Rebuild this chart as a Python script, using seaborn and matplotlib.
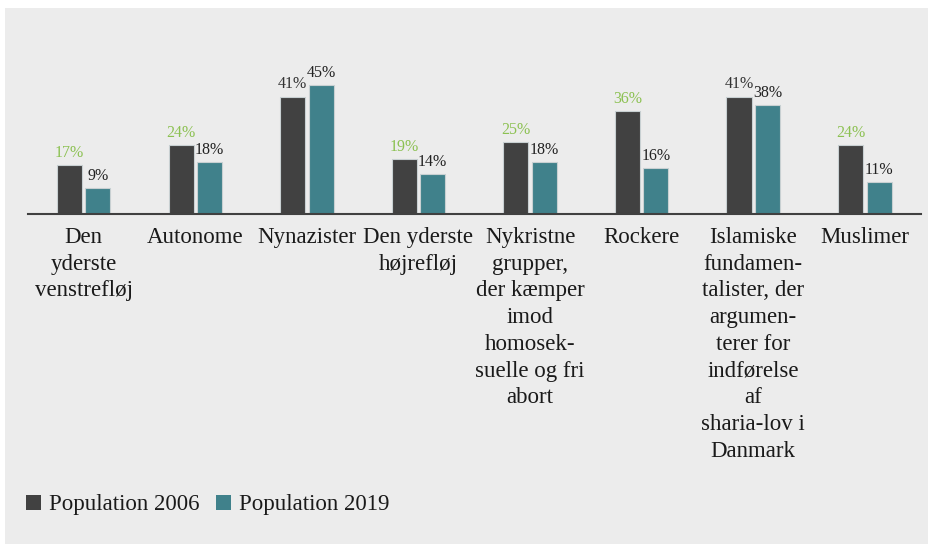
import matplotlib.pyplot as plt
import matplotlib.transforms as mtransforms
import seaborn as sns
import pandas as pd

groups = ["Den\nyderste\nvenstrefløj", "Autonome", "Nynazister", "Den yderste\nhøjrefløj",
          "Nykristne\ngrupper,\nder kæmper\nimod\nhomosek-\nsuelle og fri\nabort",
          "Rockere",
          "Islamiske\nfundamen-\ntalister, der\nargumen-\nterer for\nindførelse\naf\nsharia-lov i\nDanmark",
          "Muslimer"]
pop_2006 = [17, 24, 41, 19, 25, 36, 41, 24]
pop_2019 = [9, 18, 45, 14, 18, 16, 38, 11]
series = ["Population 2006", "Population 2019"]
label_colors_2006 = ["#8cc152", "#8cc152", "#333333", "#8cc152", "#8cc152", "#8cc152", "#333333", "#8cc152"]

bg = "#ececec"
colors = ["#414141", "#40818b"]

rows = []
for g, a, b in zip(groups, pop_2006, pop_2019):
    rows.append([g, series[0], a])
    rows.append([g, series[1], b])
df = pd.DataFrame(rows, columns=["gruppe", "serie", "pct"])

sns.set_style("white")
plt.rcParams["font.family"] = ["Liberation Serif", "DejaVu Serif"]

fig = plt.figure(figsize=(9.29, 5.44), dpi=100)
fig.patch.set_facecolor(bg)
# white margin at top/left like the cropped page
fig.patches.append(plt.Rectangle((0, 1 - 8 / 544), 1, 8 / 544, transform=fig.transFigure,
                                 facecolor="white", edgecolor="none"))
fig.patches.append(plt.Rectangle((0, 0), 5 / 929, 1, transform=fig.transFigure,
                                 facecolor="white", edgecolor="none"))

ax = fig.add_axes([0.030, 0.607, 0.961, 0.310])
ax.set_facecolor(bg)

sns.barplot(data=df, x="gruppe", y="pct", hue="serie", palette=colors,
            width=0.51, gap=0.12, edgecolor="#c8d0d2", linewidth=0.8,
            saturation=1, ax=ax)

for i, cont in enumerate(ax.containers):
    labels = ax.bar_label(cont, fmt="%d%%", padding=3, fontsize=11.5)
    for j, t in enumerate(labels):
        t.set_color(label_colors_2006[j] if i == 0 else "#222222")

ax.set_xlim(-0.5, 7.5)
ax.set_ylim(0, 59)
ax.set_xlabel("")
ax.set_ylabel("")
ax.set_yticks([])
for s in ["top", "right", "left"]:
    ax.spines[s].set_visible(False)
ax.spines["bottom"].set_color("#404040")
ax.spines["bottom"].set_linewidth(1.5)
ax.tick_params(axis="x", length=0, labelbottom=False)

# category labels drawn as text so the line spacing sticks
trans = mtransforms.offset_copy(ax.get_xaxis_transform(), fig=fig, y=-13, units="dots")
for i, g in enumerate(groups):
    ax.text(i, 0, g, transform=trans, ha="center", va="top", fontsize=16.5,
            linespacing=1.36, color="#1a1a1a")

ax.get_legend().remove()
handles = [plt.Rectangle((0, 0), 1, 1, facecolor=c, edgecolor="none") for c in colors]
leg = fig.legend(handles, series, loc="center left", bbox_to_anchor=(0.006, 0.072),
                 ncol=2, frameon=False, fontsize=16.5, handlelength=0.65,
                 handleheight=0.65, handletextpad=0.35, columnspacing=0.7)
for t in leg.get_texts():
    t.set_color("#1a1a1a")

fig.savefig("out.png", dpi=100, facecolor=bg)
